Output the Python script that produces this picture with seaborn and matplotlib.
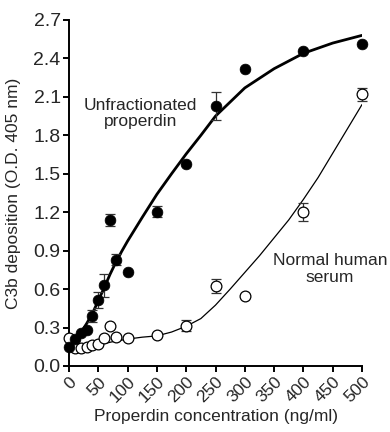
import matplotlib
matplotlib.use("Agg")
import matplotlib.pyplot as plt
import seaborn as sns
import pandas as pd
import numpy as np

# --- data ---
conc = [0, 10, 20, 30, 40, 50, 60, 70, 80, 100, 150, 200, 250, 300, 400, 500]
unfrac = [0.15, 0.21, 0.26, 0.28, 0.39, 0.515, 0.63, 1.14, 0.83, 0.735, 1.205, 1.577, 2.03, 2.32, 2.46, 2.51]
unfrac_err = [0, 0, 0, 0, 0.045, 0.065, 0.09, 0.045, 0.045, 0, 0.044, 0, 0.107, 0, 0, 0]
nhs = [0.22, 0.14, 0.14, 0.145, 0.16, 0.175, 0.22, 0.31, 0.23, 0.22, 0.245, 0.315, 0.625, 0.546, 1.2, 2.12]
nhs_err = [0, 0, 0, 0, 0, 0, 0, 0, 0, 0, 0, 0.045, 0.052, 0, 0.07, 0.05]

# fitted curves
fit_unfrac_x = [0, 10, 20, 30, 40, 50, 60, 70, 80, 90, 100, 125, 150, 175, 200, 225, 250, 275, 300, 350, 400, 450, 500]
fit_unfrac_y = [0.15, 0.20, 0.26, 0.33, 0.41, 0.51, 0.61, 0.715, 0.81, 0.895, 0.975, 1.16, 1.34, 1.50, 1.655, 1.80, 1.95, 2.06, 2.17, 2.32, 2.44, 2.52, 2.58]
fit_nhs_x = [0, 25, 50, 75, 100, 125, 150, 175, 200, 225, 250, 275, 300, 325, 350, 375, 400, 425, 450, 475, 500]
fit_nhs_y = [0.15, 0.155, 0.165, 0.19, 0.21, 0.225, 0.235, 0.265, 0.31, 0.37, 0.475, 0.60, 0.73, 0.86, 1.00, 1.14, 1.30, 1.47, 1.66, 1.85, 2.04]

yticks = [0.0, 0.3, 0.6, 0.9, 1.2, 1.5, 1.8, 2.1, 2.4, 2.7]
xticks = [0, 50, 100, 150, 200, 250, 300, 350, 400, 450, 500]

sns.set_style("ticks")
plt.rcParams['font.family'] = ['Liberation Sans', 'DejaVu Sans']

fig = plt.figure(figsize=(3.9, 4.32), dpi=100)
ax = fig.add_axes([69/390, 1 - 366/432, (362-69)/390, (366-20)/432])

df_fit1 = pd.DataFrame({"x": fit_unfrac_x, "y": fit_unfrac_y})
df_fit2 = pd.DataFrame({"x": fit_nhs_x, "y": fit_nhs_y})
sns.lineplot(data=df_fit2, x="x", y="y", ax=ax, color="black", lw=0.9, zorder=2)
sns.lineplot(data=df_fit1, x="x", y="y", ax=ax, color="black", lw=2.0, zorder=2)

# error bars
ax.errorbar(conc, nhs, yerr=nhs_err, fmt="none", ecolor="#333333", elinewidth=0.9,
            capsize=3.6, capthick=0.9, zorder=3, clip_on=False)
ax.errorbar(conc, unfrac, yerr=unfrac_err, fmt="none", ecolor="#333333", elinewidth=0.9,
            capsize=3.6, capthick=0.9, zorder=3, clip_on=False)

df_nhs = pd.DataFrame({"x": conc, "y": nhs})
df_unf = pd.DataFrame({"x": conc, "y": unfrac})
sns.scatterplot(data=df_nhs, x="x", y="y", ax=ax, marker="o", s=60, facecolor="white",
                edgecolor="black", linewidth=0.9, zorder=4, clip_on=False)
sns.scatterplot(data=df_unf, x="x", y="y", ax=ax, marker="o", s=60, color="black",
                edgecolor="black", linewidth=0.5, zorder=5, clip_on=False)

ax.set_xlim(0, 500)
ax.set_ylim(0, 2.7)
ax.set_yticks(yticks)
ax.set_yticklabels([f"{v:.1f}" for v in yticks], fontsize=14)
ax.set_xticks(xticks)
ax.set_xticklabels([str(v) for v in xticks], fontsize=12.5, rotation=45, ha="right",
                   rotation_mode="anchor")
ax.tick_params(axis="both", direction="out", length=4, width=1.4, color="black", pad=2)
for s in ["left", "bottom"]:
    ax.spines[s].set_linewidth(1.4)
    ax.spines[s].set_color("black")
sns.despine(ax=ax)

ax.set_xlabel("Properdin concentration (ng/ml)", fontsize=12.5)
ax.xaxis.set_label_coords(0.5, -0.125)
ax.set_ylabel("C3b deposition (O.D. 405 nm)", fontsize=12.5)
ax.yaxis.set_label_coords(-0.165, 0.5)

ax.text(122, 1.97, "Unfractionated\nproperdin", fontsize=12.5, ha="center", va="center",
        linespacing=1.15)
ax.text(445, 0.76, "Normal human\nserum", fontsize=12.5, ha="center", va="center",
        linespacing=1.15)

fig.savefig("out.png", dpi=100)
